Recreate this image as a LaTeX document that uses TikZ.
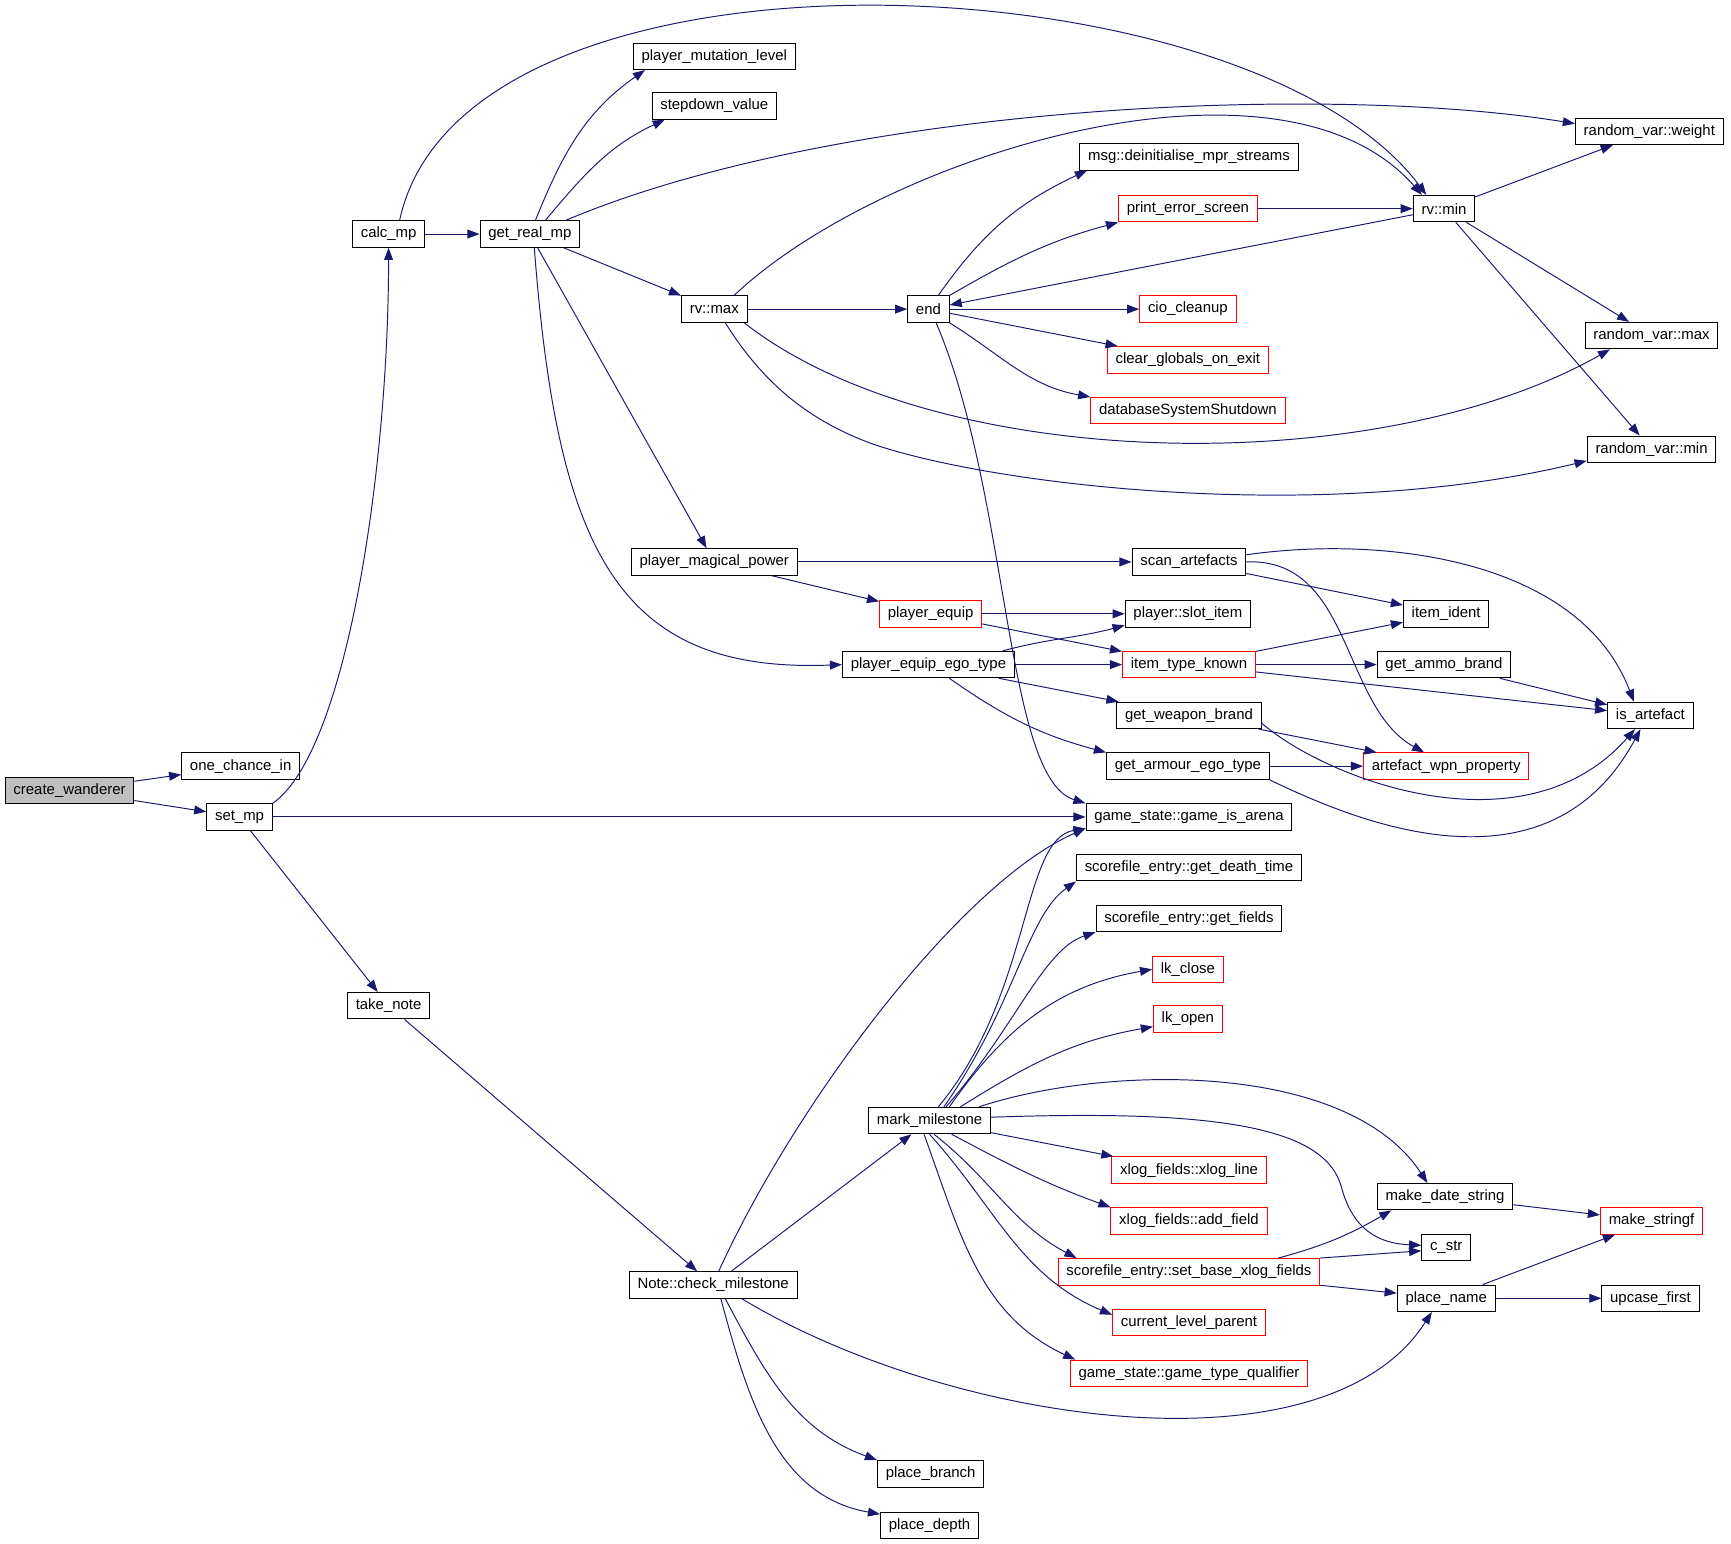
\documentclass[tikz,border=0pt]{standalone}
\usepackage{fontspec}
\setmainfont{Liberation Sans}
\usetikzlibrary{arrows.meta}
\definecolor{edgeblue}{RGB}{25, 25, 112}
\definecolor{rootgray}{RGB}{191, 191, 191}

\begin{document}
\begin{tikzpicture}[
  fn/.style={draw=black, fill=white, line width=0.5pt, inner xsep=0.15cm, inner ysep=1pt, minimum height=0.48cm, font=\fontsize{7.7}{9}\selectfont},
  fnred/.style={fn, draw=red},
  call/.style={draw=edgeblue, line width=0.5pt, -{Triangle[length=0.22cm, width=0.16cm]}}
]
  \path[use as bounding box, fill=white] (0,0) rectangle (31.36,-27.97);

  % Caller and first level
  \node[fn, fill=rootgray] (wanderer) at (1.26,-14.32) {create\_wanderer};
  \node[fn] (onechance) at (4.36,-13.88) {one\_chance\_in};
  \node[fn] (setmp) at (4.34,-14.80) {set\_mp};
  \node[fn] (calcmp) at (7.04,-4.24) {calc\_mp};
  \node[fn] (takenote) at (7.04,-18.22) {take\_note};
  \node[fn] (getrealmp) at (9.60,-4.24) {get\_real\_mp};

  % Second column
  \node[fn] (mutation) at (12.94,-1.02) {player\_mutation\_level};
  \node[fn] (stepdown) at (12.94,-1.92) {stepdown\_value};
  \node[fn] (rvmax) at (12.94,-5.60) {rv::max};
  \node[fn] (magical) at (12.94,-10.18) {player\_magical\_power};
  \node[fn] (checkms) at (12.92,-23.28) {Note::check\_milestone};

  % Third column
  \node[fn] (endfn) at (16.82,-5.60) {end};
  \node[fnred] (equip) at (16.86,-11.12) {player\_equip};
  \node[fn] (egotype) at (16.82,-12.04) {player\_equip\_ego\_type};
  \node[fn] (markms) at (16.84,-20.30) {mark\_milestone};
  \node[fn] (branch) at (16.86,-26.70) {place\_branch};
  \node[fn] (depth) at (16.84,-27.64) {place\_depth};

  % Fourth column
  \node[fn] (deinit) at (21.54,-2.84) {msg::deinitialise\_mpr\_streams};
  \node[fnred] (printerr) at (21.52,-3.78) {print\_error\_screen};
  \node[fnred] (ciocleanup) at (21.52,-5.60) {cio\_cleanup};
  \node[fnred] (clearglobals) at (21.52,-6.52) {clear\_globals\_on\_exit};
  \node[fnred] (dbshutdown) at (21.52,-7.44) {databaseSystemShutdown};
  \node[fn] (scanart) at (21.54,-10.18) {scan\_artefacts};
  \node[fn] (slotitem) at (21.52,-11.12) {player::slot\_item};
  \node[fnred] (typeknown) at (21.54,-12.04) {item\_type\_known};
  \node[fn] (weaponbrand) at (21.54,-12.96) {get\_weapon\_brand};
  \node[fn] (armourego) at (21.52,-13.88) {get\_armour\_ego\_type};
  \node[fn] (isarena) at (21.54,-14.80) {game\_state::game\_is\_arena};
  \node[fn] (deathtime) at (21.54,-15.72) {scorefile\_entry::get\_death\_time};
  \node[fn] (getfields) at (21.54,-16.64) {scorefile\_entry::get\_fields};
  \node[fnred] (lkclose) at (21.52,-17.56) {lk\_close};
  \node[fnred] (lkopen) at (21.52,-18.46) {lk\_open};
  \node[fnred] (xlogline) at (21.54,-21.20) {xlog\_fields::xlog\_line};
  \node[fnred] (addfield) at (21.54,-22.12) {xlog\_fields::add\_field};
  \node[fnred] (setbase) at (21.54,-23.04) {scorefile\_entry::set\_base\_xlog\_fields};
  \node[fnred] (levelparent) at (21.54,-23.96) {current\_level\_parent};
  \node[fnred] (typequal) at (21.54,-24.88) {game\_state::game\_type\_qualifier};

  % Fifth column
  \node[fn] (rvmin) at (26.16,-3.78) {rv::min};
  \node[fn] (itemident) at (26.20,-11.12) {item\_ident};
  \node[fn] (ammobrand) at (26.16,-12.04) {get\_ammo\_brand};
  \node[fnred] (wpnprop) at (26.20,-13.88) {artefact\_wpn\_property};
  \node[fn] (datestring) at (26.18,-21.68) {make\_date\_string};
  \node[fn] (cstr) at (26.20,-22.60) {c\_str};
  \node[fn] (placename) at (26.20,-23.52) {place\_name};

  % Last column
  \node[fn] (rvweight) at (29.88,-2.38) {random\_var::weight};
  \node[fn] (rvrmax) at (29.92,-6.08) {random\_var::max};
  \node[fn] (rvrmin) at (29.92,-8.14) {random\_var::min};
  \node[fn] (isartefact) at (29.90,-12.96) {is\_artefact};
  \node[fnred] (stringf) at (29.92,-22.12) {make\_stringf};
  \node[fn] (upcase) at (29.90,-23.52) {upcase\_first};

  % create_wanderer, set_mp, calc_mp
  \draw[call] (wanderer) -- (onechance);
  \draw[call] (wanderer) -- (setmp);
  \draw[call] (setmp.north east) .. controls (6.30,-13.60) and (7.04,-8.40) .. (calcmp.south);
  \draw[call] (setmp) -- (isarena);
  \draw[call] (setmp) -- (takenote);
  \draw[call] (calcmp) -- (getrealmp);
  \draw[call] ([xshift=0.2cm]calcmp.north) .. controls (8.40,1.40) and (22.60,0.80) .. ([xshift=-0.32cm]rvmin.north);

  % get_real_mp
  \draw[call] ([xshift=0.1cm]getrealmp.north) to[out=68, in=215] ([xshift=0.22cm]mutation.south west);
  \draw[call] ([xshift=0.28cm]getrealmp.north) to[out=50, in=205] ([xshift=0.24cm]stepdown.south west);
  \draw[call] ([xshift=-0.26cm]getrealmp.north east) .. controls (15.2,-1.9) and (24.0,-1.5) .. ([yshift=0.14cm]rvweight.west);
  \draw[call] (getrealmp) -- (rvmax);
  \draw[call] (getrealmp) -- (magical);
  \draw[call] ([xshift=0.08cm]getrealmp.south) .. controls (10.1,-10.0) and (11.2,-12.2) .. (egotype.west);

  % rv::max
  \draw[call] (rvmax) -- (endfn);
  \draw[call] ([xshift=0.36cm]rvmax.north) .. controls (16.0,-2.8) and (23.2,-0.6) .. ([xshift=-0.4cm]rvmin.north);
  \draw[call] ([xshift=-0.06cm]rvmax.south east) .. controls (17.0,-8.6) and (25.0,-8.7) .. ([xshift=0.46cm]rvrmax.south west);
  \draw[call] ([xshift=0.2cm]rvmax.south) .. controls (13.8,-6.9) and (14.6,-7.6) .. (15.8,-8.04)
    .. controls (18.0,-8.8) and (24.0,-9.5) .. ([yshift=0.04cm]rvrmin.south west);

  % end
  \draw[call] ([xshift=0.18cm]endfn.north) to[out=55, in=205] ([xshift=0.14cm]deinit.south west);
  \draw[call] (endfn.north east) to[out=30, in=195] (printerr.south west);
  \draw[call] (endfn) -- (ciocleanup);
  \draw[call] (endfn) -- (clearglobals);
  \draw[call] (endfn.south east) to[out=-32, in=170] (dbshutdown.north west);
  \draw[call] ([xshift=0.14cm]endfn.south) .. controls (18.3,-9.0) and (18.2,-14.1) .. (isarena.north west);

  % rv::min
  \draw[call] (rvmin) -- (endfn);
  \draw[call] (printerr) -- (rvmin);
  \draw[call] (rvmin) -- (rvweight);
  \draw[call] (rvmin) -- (rvrmax);
  \draw[call] (rvmin) -- (rvrmin);

  % player_magical_power, player_equip, ego type
  \draw[call] (magical) -- (scanart);
  \draw[call] (magical) -- (equip);
  \draw[call] (equip) -- (slotitem);
  \draw[call] (equip) -- (typeknown);
  \draw[call] ([xshift=-0.22cm]egotype.north east) to[out=15, in=195] ([yshift=0.04cm]slotitem.south west);
  \draw[call] (egotype) -- (typeknown);
  \draw[call] (egotype) -- (weaponbrand);
  \draw[call] ([xshift=0.38cm]egotype.south) to[out=-35, in=165] (armourego.north west);

  % artefacts
  \draw[call] ([yshift=-0.12cm]scanart.north east) .. controls (25.0,-9.7) and (28.6,-10.1) .. ([xshift=-0.3cm]isartefact.north);
  \draw[call] (scanart) -- (itemident);
  \draw[call] (scanart.east) .. controls (24.5,-10.1) and (24.3,-12.8) .. ([xshift=-0.4cm]wpnprop.north);
  \draw[call] (typeknown) -- (itemident);
  \draw[call] (typeknown) -- (ammobrand);
  \draw[call] (typeknown) -- (isartefact);
  \draw[call] (ammobrand) -- (isartefact);
  \draw[call] (weaponbrand) -- (wpnprop);
  \draw[call] ([yshift=-0.14cm]weaponbrand.east) .. controls (24.0,-14.1) and (27.6,-15.5) .. ([xshift=-0.28cm]isartefact.south);
  \draw[call] (armourego) -- (wpnprop);
  \draw[call] (armourego.south east) .. controls (24.4,-14.8) and (28.0,-16.4) .. ([xshift=-0.18cm]isartefact.south);

  % take_note, Note::check_milestone
  \draw[call] (takenote) -- (checkms);
  \draw[call] ([xshift=0.1cm]checkms.north) .. controls (14.4,-20.0) and (17.4,-16.0) .. ([yshift=0.04cm]isarena.south west);
  \draw[call] (checkms) -- (markms);
  \draw[call] ([xshift=0.52cm]checkms.south) .. controls (17.2,-25.8) and (24.0,-26.8) .. ([xshift=-0.26cm]placename.south);
  \draw[call] ([xshift=0.22cm]checkms.south) to[out=-62, in=160] (branch.north west);
  \draw[call] ([xshift=0.14cm]checkms.south) to[out=-75, in=170] ([yshift=-0.04cm]depth.north west);

  % mark_milestone
  \draw[call] ([xshift=0.16cm]markms.north) .. controls (18.7,-18.0) and (18.5,-15.2) .. ([yshift=0.04cm]isarena.south west);
  \draw[call] ([xshift=0.26cm]markms.north) .. controls (18.4,-18.2) and (18.6,-16.6) .. (deathtime.south west);
  \draw[call] ([xshift=0.3cm]markms.north) .. controls (18.4,-18.6) and (18.9,-17.2) .. (getfields.south west);
  \draw[call] ([xshift=0.36cm]markms.north) to[out=55, in=190] (lkclose.west);
  \draw[call] ([xshift=0.56cm]markms.north) to[out=32, in=190] ([yshift=-0.14cm]lkopen.west);
  \draw[call] ([xshift=0.9cm]markms.north) .. controls (20.0,-19.3) and (24.4,-19.2) .. ([xshift=-0.32cm]datestring.north);
  \draw[call] ([yshift=0.06cm]markms.east) .. controls (22.0,-20.1) and (24.0,-20.4) .. (24.3,-21.5)
    .. controls (24.46,-22.1) and (24.8,-22.52) .. ([yshift=0.04cm]cstr.west);
  \draw[call] ([yshift=-0.22cm]markms.east) -- ([xshift=0.04cm]xlogline.north west);
  \draw[call] ([xshift=0.4cm]markms.south) to[out=-28, in=160] (addfield.north west);
  \draw[call] ([xshift=0.08cm]markms.south) to[out=-38, in=152] ([xshift=0.34cm]setbase.north west);
  \draw[call] (markms.south) to[out=-48, in=157] ([yshift=0.14cm]levelparent.west);
  \draw[call] ([xshift=-0.1cm]markms.south) to[out=-70, in=155] ([xshift=0.1cm]typequal.north west);

  % set_base_xlog_fields and below
  \draw[call] ([xshift=-0.76cm]setbase.north east) to[out=15, in=-150] ([xshift=0.26cm]datestring.south west);
  \draw[call] (setbase.north east) -- ([yshift=-0.06cm]cstr.west);
  \draw[call] (setbase) -- (placename);
  \draw[call] (datestring) -- (stringf);
  \draw[call] (placename) -- (stringf);
  \draw[call] (placename) -- (upcase);
\end{tikzpicture}
\end{document}
